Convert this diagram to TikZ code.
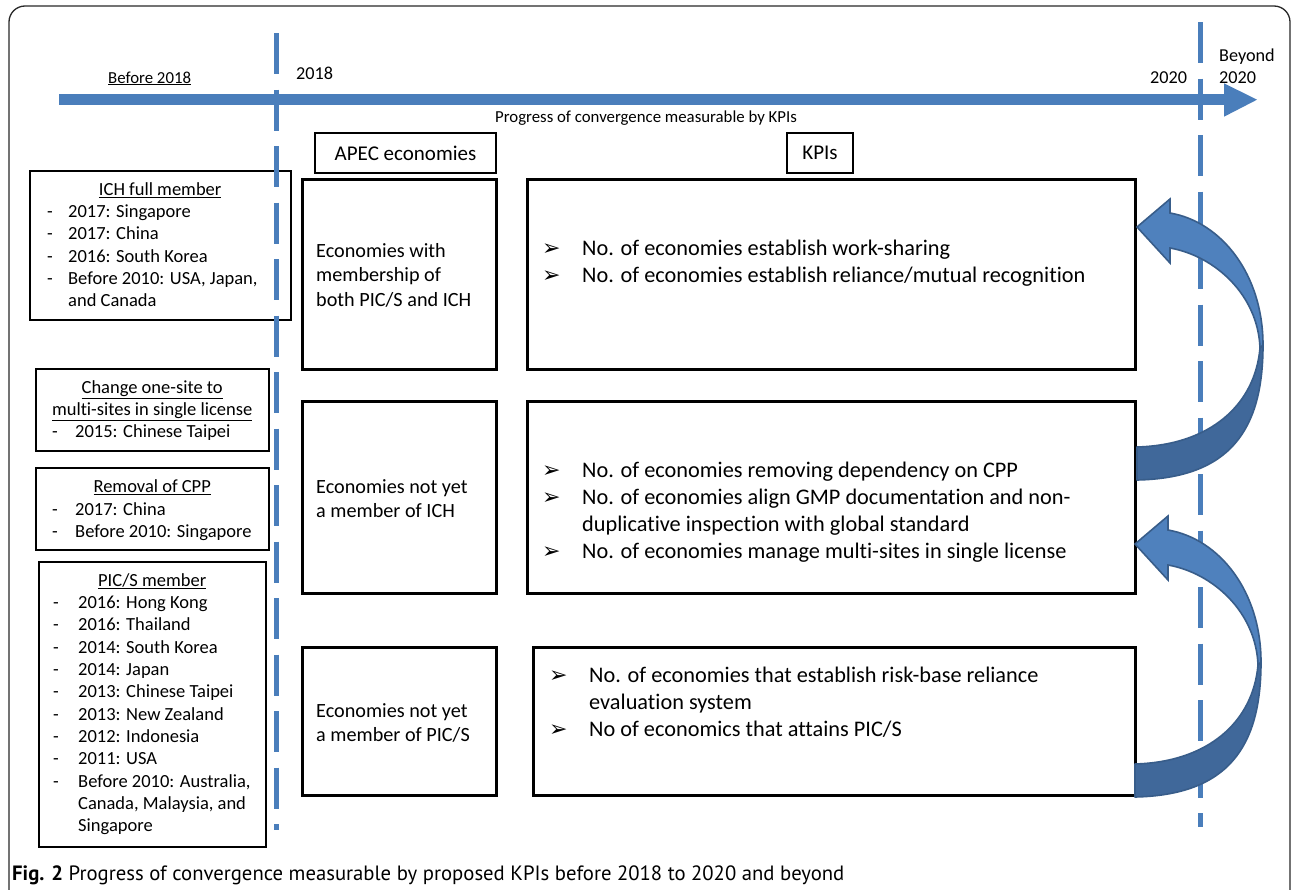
\documentclass[tikz,border=0pt]{standalone}
\usepackage{fontspec}
\setmainfont{Carlito}[Ligatures=NoCommon]
\newfontfamily\capfont{PT Sans}
\newfontfamily\symfont{DejaVu Sans}
\definecolor{tl}{RGB}{74,126,187}
\definecolor{arrL}{RGB}{79,129,189}
\definecolor{arrD}{RGB}{64,104,154}
\definecolor{arrE}{RGB}{56,93,138}
\definecolor{frame}{RGB}{40,40,40}
\newcommand\myfs[2]{\fontsize{#1}{#2}\selectfont}
\newcommand\kbul{\makebox[40pt][l]{\symfont\fontsize{22}{22}\selectfont ➢}}
\newcommand\ldash[1]{\makebox[#1][l]{-}}
\begin{document}
\begin{tikzpicture}[x=1pt,y=-1pt,
  thinbox/.style={draw=black,line width=1.2pt,outer sep=0pt,inner sep=0pt,anchor=north west},
  thickbox/.style={draw=black,line width=3pt,outer sep=0pt,inner sep=0pt,anchor=north west},
  lefttext/.style={anchor=north west,inner sep=0pt,align=left,font=\myfs{18.5}{22.3}},
  apectext/.style={anchor=north west,inner sep=0pt,align=left,font=\myfs{20.2}{24.5}},
  kpitext/.style={anchor=north west,inner sep=0pt,align=left,font=\myfs{22.3}{27}},
  hdr/.style={thinbox,font=\myfs{21}{25}},
  tick/.style={draw=tl,line width=5pt,dash pattern=on 41pt off 15.5pt},
  lbl/.style={inner sep=0pt,anchor=base west}
]
\useasboundingbox (0,0) rectangle (1292,889);
\fill[white] (0,0) rectangle (1292,889);
% outer frame
\draw[frame,line width=1.3pt,rounded corners=16pt] (9,900) -- (9,6) -- (1290,6) -- (1290,900);

% timeline
\coordinate (tlS) at (59,99.7);
\coordinate (tlE) at (1225,99.7);
\draw[tl,line width=11.3pt] (tlS) -- (tlE);
\fill[tl] (1224,83.3) -- (1257,99.7) -- (1224,116.7) -- cycle;

% top labels
\node[lbl,font=\myfs{16.8}{20}] (b2018) at (108,83) {\underline{Before 2018}};
\node[lbl,font=\myfs{18.2}{22}] (y2018) at (296,79) {2018};
\node[lbl,font=\myfs{18.2}{22}] (y2020) at (1150,83) {2020};
\node[anchor=north west,inner sep=0pt,align=left,font=\myfs{18.2}{22}] (beyond) at (1219,46) {\strut Beyond\\2020};
\node[inner sep=0pt,anchor=base,font=\myfs{16.8}{20}] (prog) at (646,122) {Progress of convergence measurable by KPIs};

% headers
\node[hdr,minimum width=181pt,minimum height=40pt] (apechd) at (315,133) {APEC economies};
\node[hdr,minimum width=66pt,minimum height=40pt] (kpihd) at (787,133) {KPIs};

% row boxes
\node[thickbox,minimum width=194pt,minimum height=190pt] (a1) at (302,179) {};
\node[thickbox,minimum width=608pt,minimum height=190pt] (k1) at (527,179) {};
\node[thickbox,minimum width=194pt,minimum height=192pt] (a2) at (302,401) {};
\node[thickbox,minimum width=608pt,minimum height=192pt] (k2) at (527,401) {};
\node[thickbox,minimum width=194pt,minimum height=148pt] (a3) at (302,647) {};
\node[thickbox,minimum width=602pt,minimum height=148pt] (k3) at (533,647) {};

% APEC texts
\node[apectext] (a1t) at (316,240) {\strut Economies with\\membership of\\both PIC/S and ICH};
\node[apectext] (a2t) at (316,476) {\strut Economies not yet\\a member of ICH};
\node[apectext] (a3t) at (316,700) {\strut Economies not yet\\a member of PIC/S};

% KPI texts
\node[kpitext] (k1t) at (542,236) {\strut\kbul No. of economies establish work-sharing\\
\kbul No. of economies establish reliance/mutual recognition};
\node[kpitext] (k2t) at (542,458) {\strut\kbul No. of economies removing dependency on CPP\\
\kbul No. of economies align GMP documentation and non-\\
\hspace*{40pt}duplicative inspection with global standard\\
\kbul No. of economies manage multi-sites in single license};
\node[kpitext] (k3t) at (549,663) {\strut\kbul No. of economies that establish risk-base reliance\\
\hspace*{40pt}evaluation system\\
\kbul No of economics that attains PIC/S};

% left boxes
\node[thinbox,minimum width=261pt,minimum height=149pt] (ich) at (30,171) {};
\node[thinbox,minimum width=233pt,minimum height=82pt] (chg) at (36,369) {};
\node[thinbox,minimum width=233pt,minimum height=82pt] (rem) at (36,468) {};
\node[thinbox,minimum width=227pt,minimum height=285pt] (pic) at (39,562) {};

\node[lefttext] (icht) at (47,179.5) {\strut\makebox[226pt]{\underline{ICH full member}}\\
\ldash{21pt}2017: Singapore\\
\ldash{21pt}2017: China\\
\ldash{21pt}2016: South Korea\\
\ldash{21pt}Before 2010: USA, Japan,\\
\hspace*{21pt}and Canada};
\node[lefttext] (chgt) at (52,377.5) {\strut\makebox[200pt]{\underline{Change one-site to}}\\
\makebox[200pt]{\underline{multi-sites in single license}}\\
\ldash{23pt}2015: Chinese Taipei};
\node[lefttext] (remt) at (52,477) {\strut\makebox[200pt]{\underline{Removal of CPP}}\\
\ldash{23pt}2017: China\\
\ldash{23pt}Before 2010: Singapore};
\node[lefttext] (pict) at (53,570.5) {\strut\makebox[198pt]{\underline{PIC/S member}}\\
\ldash{25pt}2016: Hong Kong\\
\ldash{25pt}2016: Thailand\\
\ldash{25pt}2014: South Korea\\
\ldash{25pt}2014: Japan\\
\ldash{25pt}2013: Chinese Taipei\\
\ldash{25pt}2013: New Zealand\\
\ldash{25pt}2012: Indonesia\\
\ldash{25pt}2011: USA\\
\ldash{25pt}Before 2010: Australia,\\
\hspace*{25pt}Canada, Malaysia, and\\
\hspace*{25pt}Singapore};

% dashed time markers
\coordinate (l18t) at (276,33);
\coordinate (l18b) at (276,830);
\coordinate (l20t) at (1200,22);
\coordinate (l20b) at (1200,827);
\draw[tick] (l18t) -- (l18b);
\draw[tick] (l20t) -- (l20b);

% curved arrows
\foreach \dx/\dy in {0/0,-2/317}{
\begin{scope}[shift={(\dx,\dy)}]
\filldraw[fill=arrD,draw=arrE,line width=1.6pt,line join=round]
  (1263,345) .. controls (1263,430) and (1230,478) .. (1137,480)
  -- (1137,447) .. controls (1210,445) and (1255,405) .. (1260,348) -- cycle;
\filldraw[fill=arrL,draw=arrE,line width=1.6pt,line join=miter]
  (1137,227) -- (1170,199) -- (1170,213)
  .. controls (1222,222) and (1263,275) .. (1263,345)
  -- (1260,348) .. controls (1258,295) and (1215,256) .. (1170,248)
  -- (1170,263) -- cycle;
\end{scope}}

% caption
\node[lbl,font=\capfont\myfs{20.7}{24}] (cap) at (12,880) {\textbf{Fig. 2} Progress of convergence measurable by proposed KPIs before 2018 to 2020 and beyond};
\end{tikzpicture}
\end{document}
